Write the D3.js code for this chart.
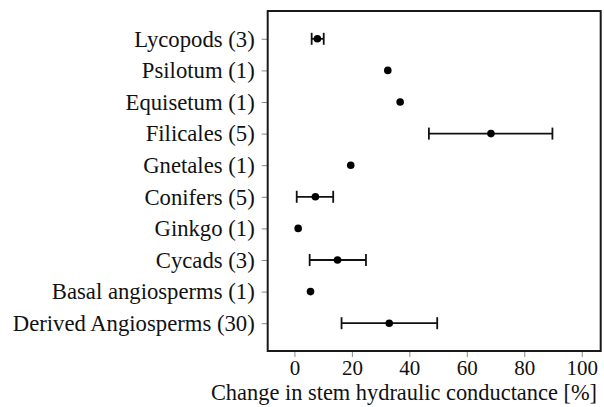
<!DOCTYPE html>
<html><head><meta charset="utf-8">
<script src="https://cdn.jsdelivr.net/npm/d3@7"></script>
<style>body{margin:0;background:#fff}svg{display:block}svg text{font-family:"Liberation Serif","Times New Roman","DejaVu Serif",serif !important;fill:#111}</style>
</head><body><svg id="c" width="604" height="407"></svg>
<script>
const categories = ["Lycopods (3)","Psilotum (1)","Equisetum (1)","Filicales (5)","Gnetales (1)","Conifers (5)","Ginkgo (1)","Cycads (3)","Basal angiosperms (1)","Derived Angiosperms (30)"];
const means = [8.0, 32.5, 36.8, 68.4, 19.6, 7.3, 1.3, 15.0, 5.6, 33.0];
const lows  = [6.0, null, null, 46.8, null, 0.8, null, 5.3, null, 16.4];
const highs = [10.2, null, null, 89.8, null, 13.5, null, 24.9, null, 49.7];
const xTicks = [0, 20, 40, 60, 80, 100];
const xTitle = "Change in stem hydraulic conductance [%]";

const svg = d3.select("#c");
const L = 267.7, R = 600.7, T = 11, B = 351;
const x = d3.scaleLinear().domain([-9.3, 106.6]).range([L, R]);
const y = d3.scalePoint().domain(categories).range([T, B]).padding(0.88);

// x axis
const xa = svg.append("g").attr("transform", `translate(0,${B})`)
  .call(d3.axisBottom(x).tickValues(xTicks).tickSize(6).tickPadding(3).tickFormat(d3.format("d")));
xa.attr("font-family", null);
xa.select(".domain").remove();
xa.selectAll("line").attr("stroke", "#888").attr("stroke-width", 1);
xa.selectAll("text").style("font-size", "21px").attr("fill", "#111");

// y axis
const ya = svg.append("g").attr("transform", `translate(${L},0)`)
  .call(d3.axisLeft(y).tickSize(6).tickPadding(7));
ya.attr("font-family", null);
ya.select(".domain").remove();
ya.selectAll("line").attr("stroke", "#888").attr("stroke-width", 1);
ya.selectAll("text").style("font-size", "22.7px").attr("fill", "#111");

// error bars
const data = categories.map((c, i) => ({c, m: means[i], lo: lows[i], hi: highs[i]}));
const eb = svg.append("g").attr("stroke", "#111").attr("stroke-width", 1.8);
data.filter(d => d.lo != null).forEach(d => {
  const yy = y(d.c);
  eb.append("line").attr("x1", x(d.lo)).attr("x2", x(d.hi)).attr("y1", yy).attr("y2", yy);
  eb.append("line").attr("x1", x(d.lo)).attr("x2", x(d.lo)).attr("y1", yy - 6).attr("y2", yy + 6);
  eb.append("line").attr("x1", x(d.hi)).attr("x2", x(d.hi)).attr("y1", yy - 6).attr("y2", yy + 6);
});
svg.append("g").selectAll("circle").data(data).join("circle")
  .attr("cx", d => x(d.m)).attr("cy", d => y(d.c)).attr("r", 3.8).attr("fill", "#000");

// frame
svg.append("rect").attr("x", L).attr("y", T).attr("width", R - L).attr("height", B - T)
  .attr("fill", "none").attr("stroke", "#1a1a1a").attr("stroke-width", 2);

svg.append("text").attr("x", 404).attr("y", 400).attr("text-anchor", "middle")
  .style("font-size", "22.4px").text(xTitle);
</script></body></html>
